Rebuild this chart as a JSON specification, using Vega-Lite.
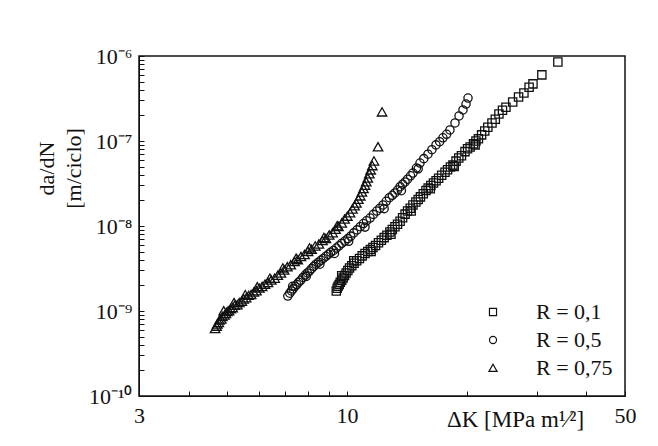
{
  "$schema": "https://vega.github.io/schema/vega-lite/v6.json",
  "width": 486,
  "height": 340,
  "autosize": {"type": "none"},
  "padding": {"left": 139, "top": 56, "right": 33, "bottom": 50},
  "background": "white",
  "config": {
    "view": {"stroke": "#111", "strokeWidth": 1.5},
    "font": "Liberation Serif",
    "axis": {
      "labelFont": "Liberation Serif",
      "titleFont": "Liberation Serif",
      "labelColor": "#111",
      "titleColor": "#111",
      "domainColor": "#111",
      "tickColor": "#111",
      "grid": false,
      "titleFontWeight": "normal",
      "labelOverlap": false,
      "labelFlush": false
    },
    "legend": {
      "labelFont": "Liberation Serif",
      "labelFontSize": 22,
      "labelColor": "#111",
      "labelOffset": 32,
      "rowPadding": 6,
      "symbolSize": 50,
      "symbolStrokeWidth": 1.2,
      "symbolStrokeColor": "#111",
      "symbolFillColor": "transparent",
      "padding": 0
    }
  },
  "data": {
    "values": [
      {"R": "R = 0,75", "K": 4.66, "dadN": 6.2e-10},
      {"R": "R = 0,75", "K": 4.70, "dadN": 6.6e-10},
      {"R": "R = 0,75", "K": 4.72, "dadN": 7.0e-10},
      {"R": "R = 0,75", "K": 4.76, "dadN": 7.3e-10},
      {"R": "R = 0,75", "K": 4.78, "dadN": 7.8e-10},
      {"R": "R = 0,75", "K": 4.83, "dadN": 8.0e-10},
      {"R": "R = 0,75", "K": 4.86, "dadN": 8.6e-10},
      {"R": "R = 0,75", "K": 4.92, "dadN": 8.9e-10},
      {"R": "R = 0,75", "K": 4.96, "dadN": 9.3e-10},
      {"R": "R = 0,75", "K": 5.00, "dadN": 9.8e-10},
      {"R": "R = 0,75", "K": 5.05, "dadN": 1.0e-9},
      {"R": "R = 0,75", "K": 5.10, "dadN": 1.06e-9},
      {"R": "R = 0,75", "K": 5.16, "dadN": 1.09e-9},
      {"R": "R = 0,75", "K": 5.22, "dadN": 1.16e-9},
      {"R": "R = 0,75", "K": 5.30, "dadN": 1.18e-9},
      {"R": "R = 0,75", "K": 5.36, "dadN": 1.25e-9},
      {"R": "R = 0,75", "K": 5.44, "dadN": 1.30e-9},
      {"R": "R = 0,75", "K": 5.50, "dadN": 1.38e-9},
      {"R": "R = 0,75", "K": 5.58, "dadN": 1.42e-9},
      {"R": "R = 0,75", "K": 5.66, "dadN": 1.52e-9},
      {"R": "R = 0,75", "K": 5.74, "dadN": 1.56e-9},
      {"R": "R = 0,75", "K": 5.83, "dadN": 1.66e-9},
      {"R": "R = 0,75", "K": 5.92, "dadN": 1.72e-9},
      {"R": "R = 0,75", "K": 6.02, "dadN": 1.85e-9},
      {"R": "R = 0,75", "K": 6.12, "dadN": 1.93e-9},
      {"R": "R = 0,75", "K": 6.22, "dadN": 2.06e-9},
      {"R": "R = 0,75", "K": 6.33, "dadN": 2.15e-9},
      {"R": "R = 0,75", "K": 6.45, "dadN": 2.30e-9},
      {"R": "R = 0,75", "K": 6.58, "dadN": 2.42e-9},
      {"R": "R = 0,75", "K": 6.70, "dadN": 2.62e-9},
      {"R": "R = 0,75", "K": 6.82, "dadN": 2.78e-9},
      {"R": "R = 0,75", "K": 6.95, "dadN": 3.02e-9},
      {"R": "R = 0,75", "K": 7.08, "dadN": 3.30e-9},
      {"R": "R = 0,75", "K": 7.22, "dadN": 3.48e-9},
      {"R": "R = 0,75", "K": 7.38, "dadN": 3.80e-9},
      {"R": "R = 0,75", "K": 7.52, "dadN": 4.0e-9},
      {"R": "R = 0,75", "K": 7.66, "dadN": 4.35e-9},
      {"R": "R = 0,75", "K": 7.82, "dadN": 4.6e-9},
      {"R": "R = 0,75", "K": 7.98, "dadN": 5.0e-9},
      {"R": "R = 0,75", "K": 8.15, "dadN": 5.3e-9},
      {"R": "R = 0,75", "K": 8.32, "dadN": 5.8e-9},
      {"R": "R = 0,75", "K": 8.50, "dadN": 6.1e-9},
      {"R": "R = 0,75", "K": 8.68, "dadN": 6.7e-9},
      {"R": "R = 0,75", "K": 8.85, "dadN": 7.1e-9},
      {"R": "R = 0,75", "K": 9.02, "dadN": 7.8e-9},
      {"R": "R = 0,75", "K": 9.20, "dadN": 8.3e-9},
      {"R": "R = 0,75", "K": 9.36, "dadN": 9.1e-9},
      {"R": "R = 0,75", "K": 9.52, "dadN": 9.8e-9},
      {"R": "R = 0,75", "K": 9.70, "dadN": 1.08e-8},
      {"R": "R = 0,75", "K": 9.86, "dadN": 1.2e-8},
      {"R": "R = 0,75", "K": 10.02, "dadN": 1.3e-8},
      {"R": "R = 0,75", "K": 10.18, "dadN": 1.42e-8},
      {"R": "R = 0,75", "K": 10.32, "dadN": 1.58e-8},
      {"R": "R = 0,75", "K": 10.45, "dadN": 1.72e-8},
      {"R": "R = 0,75", "K": 10.56, "dadN": 1.85e-8},
      {"R": "R = 0,75", "K": 10.68, "dadN": 2.05e-8},
      {"R": "R = 0,75", "K": 10.80, "dadN": 2.25e-8},
      {"R": "R = 0,75", "K": 10.90, "dadN": 2.5e-8},
      {"R": "R = 0,75", "K": 11.00, "dadN": 2.75e-8},
      {"R": "R = 0,75", "K": 11.10, "dadN": 3.0e-8},
      {"R": "R = 0,75", "K": 11.18, "dadN": 3.3e-8},
      {"R": "R = 0,75", "K": 11.28, "dadN": 3.65e-8},
      {"R": "R = 0,75", "K": 11.38, "dadN": 4.1e-8},
      {"R": "R = 0,75", "K": 11.47, "dadN": 4.55e-8},
      {"R": "R = 0,75", "K": 11.58, "dadN": 5.1e-8},
      {"R": "R = 0,75", "K": 11.69, "dadN": 5.8e-8},
      {"R": "R = 0,75", "K": 11.97, "dadN": 8.5e-8},
      {"R": "R = 0,75", "K": 12.25, "dadN": 2.19e-7},
      {"R": "R = 0,75", "K": 4.90, "dadN": 1.0e-9},
      {"R": "R = 0,75", "K": 5.20, "dadN": 1.25e-9},
      {"R": "R = 0,75", "K": 5.55, "dadN": 1.55e-9},
      {"R": "R = 0,75", "K": 5.95, "dadN": 1.92e-9},
      {"R": "R = 0,75", "K": 6.40, "dadN": 2.42e-9},
      {"R": "R = 0,75", "K": 6.90, "dadN": 3.2e-9},
      {"R": "R = 0,75", "K": 7.45, "dadN": 4.15e-9},
      {"R": "R = 0,75", "K": 8.05, "dadN": 5.5e-9},
      {"R": "R = 0,75", "K": 8.75, "dadN": 7.3e-9},
      {"R": "R = 0,75", "K": 9.45, "dadN": 1.0e-8},

      {"R": "R = 0,5", "K": 7.10, "dadN": 1.50e-9},
      {"R": "R = 0,5", "K": 7.18, "dadN": 1.62e-9},
      {"R": "R = 0,5", "K": 7.25, "dadN": 1.72e-9},
      {"R": "R = 0,5", "K": 7.32, "dadN": 1.82e-9},
      {"R": "R = 0,5", "K": 7.40, "dadN": 1.95e-9},
      {"R": "R = 0,5", "K": 7.48, "dadN": 2.05e-9},
      {"R": "R = 0,5", "K": 7.56, "dadN": 2.18e-9},
      {"R": "R = 0,5", "K": 7.65, "dadN": 2.30e-9},
      {"R": "R = 0,5", "K": 7.75, "dadN": 2.48e-9},
      {"R": "R = 0,5", "K": 7.85, "dadN": 2.65e-9},
      {"R": "R = 0,5", "K": 7.95, "dadN": 2.80e-9},
      {"R": "R = 0,5", "K": 8.05, "dadN": 2.95e-9},
      {"R": "R = 0,5", "K": 8.15, "dadN": 3.15e-9},
      {"R": "R = 0,5", "K": 8.25, "dadN": 3.35e-9},
      {"R": "R = 0,5", "K": 8.36, "dadN": 3.55e-9},
      {"R": "R = 0,5", "K": 8.48, "dadN": 3.75e-9},
      {"R": "R = 0,5", "K": 8.60, "dadN": 3.95e-9},
      {"R": "R = 0,5", "K": 8.72, "dadN": 4.15e-9},
      {"R": "R = 0,5", "K": 8.85, "dadN": 4.4e-9},
      {"R": "R = 0,5", "K": 8.98, "dadN": 4.65e-9},
      {"R": "R = 0,5", "K": 9.10, "dadN": 4.9e-9},
      {"R": "R = 0,5", "K": 9.25, "dadN": 5.15e-9},
      {"R": "R = 0,5", "K": 9.40, "dadN": 5.5e-9},
      {"R": "R = 0,5", "K": 9.55, "dadN": 5.85e-9},
      {"R": "R = 0,5", "K": 9.70, "dadN": 6.25e-9},
      {"R": "R = 0,5", "K": 9.88, "dadN": 6.65e-9},
      {"R": "R = 0,5", "K": 10.05, "dadN": 7.1e-9},
      {"R": "R = 0,5", "K": 10.22, "dadN": 7.6e-9},
      {"R": "R = 0,5", "K": 10.40, "dadN": 8.3e-9},
      {"R": "R = 0,5", "K": 10.60, "dadN": 9.0e-9},
      {"R": "R = 0,5", "K": 10.80, "dadN": 9.8e-9},
      {"R": "R = 0,5", "K": 11.00, "dadN": 1.07e-8},
      {"R": "R = 0,5", "K": 11.20, "dadN": 1.15e-8},
      {"R": "R = 0,5", "K": 11.43, "dadN": 1.24e-8},
      {"R": "R = 0,5", "K": 11.65, "dadN": 1.37e-8},
      {"R": "R = 0,5", "K": 11.88, "dadN": 1.5e-8},
      {"R": "R = 0,5", "K": 12.10, "dadN": 1.62e-8},
      {"R": "R = 0,5", "K": 12.32, "dadN": 1.77e-8},
      {"R": "R = 0,5", "K": 12.55, "dadN": 1.95e-8},
      {"R": "R = 0,5", "K": 12.78, "dadN": 2.15e-8},
      {"R": "R = 0,5", "K": 13.00, "dadN": 2.3e-8},
      {"R": "R = 0,5", "K": 13.20, "dadN": 2.45e-8},
      {"R": "R = 0,5", "K": 13.40, "dadN": 2.65e-8},
      {"R": "R = 0,5", "K": 13.60, "dadN": 2.9e-8},
      {"R": "R = 0,5", "K": 13.80, "dadN": 3.1e-8},
      {"R": "R = 0,5", "K": 14.00, "dadN": 3.3e-8},
      {"R": "R = 0,5", "K": 14.20, "dadN": 3.55e-8},
      {"R": "R = 0,5", "K": 14.45, "dadN": 3.9e-8},
      {"R": "R = 0,5", "K": 14.65, "dadN": 4.2e-8},
      {"R": "R = 0,5", "K": 14.95, "dadN": 4.8e-8},
      {"R": "R = 0,5", "K": 15.26, "dadN": 5.5e-8},
      {"R": "R = 0,5", "K": 15.60, "dadN": 6.2e-8},
      {"R": "R = 0,5", "K": 15.98, "dadN": 7.0e-8},
      {"R": "R = 0,5", "K": 16.35, "dadN": 7.9e-8},
      {"R": "R = 0,5", "K": 16.74, "dadN": 9.0e-8},
      {"R": "R = 0,5", "K": 17.10, "dadN": 9.8e-8},
      {"R": "R = 0,5", "K": 17.43, "dadN": 1.09e-7},
      {"R": "R = 0,5", "K": 17.80, "dadN": 1.2e-7},
      {"R": "R = 0,5", "K": 18.15, "dadN": 1.35e-7},
      {"R": "R = 0,5", "K": 18.69, "dadN": 1.63e-7},
      {"R": "R = 0,5", "K": 19.13, "dadN": 1.97e-7},
      {"R": "R = 0,5", "K": 19.57, "dadN": 2.32e-7},
      {"R": "R = 0,5", "K": 19.92, "dadN": 2.72e-7},
      {"R": "R = 0,5", "K": 20.15, "dadN": 3.2e-7},
      {"R": "R = 0,5", "K": 7.30, "dadN": 1.95e-9},
      {"R": "R = 0,5", "K": 7.90, "dadN": 2.55e-9},
      {"R": "R = 0,5", "K": 8.55, "dadN": 3.55e-9},
      {"R": "R = 0,5", "K": 9.30, "dadN": 4.75e-9},
      {"R": "R = 0,5", "K": 10.10, "dadN": 6.6e-9},
      {"R": "R = 0,5", "K": 11.10, "dadN": 9.7e-9},
      {"R": "R = 0,5", "K": 12.40, "dadN": 1.6e-8},
      {"R": "R = 0,5", "K": 13.70, "dadN": 2.6e-8},
      {"R": "R = 0,5", "K": 15.10, "dadN": 4.7e-8},

      {"R": "R = 0,1", "K": 9.40, "dadN": 1.72e-9},
      {"R": "R = 0,1", "K": 9.45, "dadN": 1.85e-9},
      {"R": "R = 0,1", "K": 9.50, "dadN": 1.95e-9},
      {"R": "R = 0,1", "K": 9.56, "dadN": 2.05e-9},
      {"R": "R = 0,1", "K": 9.62, "dadN": 2.18e-9},
      {"R": "R = 0,1", "K": 9.70, "dadN": 2.30e-9},
      {"R": "R = 0,1", "K": 9.78, "dadN": 2.45e-9},
      {"R": "R = 0,1", "K": 9.86, "dadN": 2.62e-9},
      {"R": "R = 0,1", "K": 9.95, "dadN": 2.80e-9},
      {"R": "R = 0,1", "K": 10.05, "dadN": 3.0e-9},
      {"R": "R = 0,1", "K": 10.15, "dadN": 3.2e-9},
      {"R": "R = 0,1", "K": 10.28, "dadN": 3.4e-9},
      {"R": "R = 0,1", "K": 10.42, "dadN": 3.65e-9},
      {"R": "R = 0,1", "K": 10.58, "dadN": 3.9e-9},
      {"R": "R = 0,1", "K": 10.75, "dadN": 4.15e-9},
      {"R": "R = 0,1", "K": 10.92, "dadN": 4.45e-9},
      {"R": "R = 0,1", "K": 11.10, "dadN": 4.75e-9},
      {"R": "R = 0,1", "K": 11.28, "dadN": 5.0e-9},
      {"R": "R = 0,1", "K": 11.45, "dadN": 5.3e-9},
      {"R": "R = 0,1", "K": 11.62, "dadN": 5.6e-9},
      {"R": "R = 0,1", "K": 11.80, "dadN": 5.9e-9},
      {"R": "R = 0,1", "K": 12.00, "dadN": 6.35e-9},
      {"R": "R = 0,1", "K": 12.20, "dadN": 6.8e-9},
      {"R": "R = 0,1", "K": 12.40, "dadN": 7.3e-9},
      {"R": "R = 0,1", "K": 12.60, "dadN": 7.8e-9},
      {"R": "R = 0,1", "K": 12.82, "dadN": 8.5e-9},
      {"R": "R = 0,1", "K": 13.00, "dadN": 9.1e-9},
      {"R": "R = 0,1", "K": 13.20, "dadN": 9.8e-9},
      {"R": "R = 0,1", "K": 13.40, "dadN": 1.05e-8},
      {"R": "R = 0,1", "K": 13.60, "dadN": 1.14e-8},
      {"R": "R = 0,1", "K": 13.80, "dadN": 1.25e-8},
      {"R": "R = 0,1", "K": 14.00, "dadN": 1.38e-8},
      {"R": "R = 0,1", "K": 14.20, "dadN": 1.5e-8},
      {"R": "R = 0,1", "K": 14.42, "dadN": 1.62e-8},
      {"R": "R = 0,1", "K": 14.65, "dadN": 1.77e-8},
      {"R": "R = 0,1", "K": 14.90, "dadN": 1.92e-8},
      {"R": "R = 0,1", "K": 15.10, "dadN": 2.05e-8},
      {"R": "R = 0,1", "K": 15.30, "dadN": 2.2e-8},
      {"R": "R = 0,1", "K": 15.55, "dadN": 2.4e-8},
      {"R": "R = 0,1", "K": 15.80, "dadN": 2.62e-8},
      {"R": "R = 0,1", "K": 16.00, "dadN": 2.8e-8},
      {"R": "R = 0,1", "K": 16.25, "dadN": 3.0e-8},
      {"R": "R = 0,1", "K": 16.50, "dadN": 3.2e-8},
      {"R": "R = 0,1", "K": 16.75, "dadN": 3.4e-8},
      {"R": "R = 0,1", "K": 17.00, "dadN": 3.65e-8},
      {"R": "R = 0,1", "K": 17.30, "dadN": 3.95e-8},
      {"R": "R = 0,1", "K": 17.64, "dadN": 4.3e-8},
      {"R": "R = 0,1", "K": 17.90, "dadN": 4.6e-8},
      {"R": "R = 0,1", "K": 18.20, "dadN": 4.95e-8},
      {"R": "R = 0,1", "K": 18.47, "dadN": 5.2e-8},
      {"R": "R = 0,1", "K": 18.80, "dadN": 5.8e-8},
      {"R": "R = 0,1", "K": 19.10, "dadN": 6.3e-8},
      {"R": "R = 0,1", "K": 19.40, "dadN": 6.7e-8},
      {"R": "R = 0,1", "K": 19.80, "dadN": 7.5e-8},
      {"R": "R = 0,1", "K": 20.10, "dadN": 8.1e-8},
      {"R": "R = 0,1", "K": 20.40, "dadN": 8.5e-8},
      {"R": "R = 0,1", "K": 20.80, "dadN": 9.3e-8},
      {"R": "R = 0,1", "K": 21.10, "dadN": 1.0e-7},
      {"R": "R = 0,1", "K": 21.40, "dadN": 1.06e-7},
      {"R": "R = 0,1", "K": 21.80, "dadN": 1.18e-7},
      {"R": "R = 0,1", "K": 22.20, "dadN": 1.31e-7},
      {"R": "R = 0,1", "K": 22.60, "dadN": 1.45e-7},
      {"R": "R = 0,1", "K": 23.15, "dadN": 1.63e-7},
      {"R": "R = 0,1", "K": 23.60, "dadN": 1.8e-7},
      {"R": "R = 0,1", "K": 24.10, "dadN": 2.08e-7},
      {"R": "R = 0,1", "K": 24.60, "dadN": 2.3e-7},
      {"R": "R = 0,1", "K": 25.10, "dadN": 2.5e-7},
      {"R": "R = 0,1", "K": 26.10, "dadN": 2.88e-7},
      {"R": "R = 0,1", "K": 27.00, "dadN": 3.3e-7},
      {"R": "R = 0,1", "K": 27.85, "dadN": 3.67e-7},
      {"R": "R = 0,1", "K": 28.70, "dadN": 4.3e-7},
      {"R": "R = 0,1", "K": 29.35, "dadN": 4.7e-7},
      {"R": "R = 0,1", "K": 30.90, "dadN": 6.0e-7},
      {"R": "R = 0,1", "K": 33.90, "dadN": 8.5e-7},
      {"R": "R = 0,1", "K": 9.70, "dadN": 2.6e-9},
      {"R": "R = 0,1", "K": 10.40, "dadN": 3.9e-9},
      {"R": "R = 0,1", "K": 11.50, "dadN": 5.0e-9},
      {"R": "R = 0,1", "K": 12.90, "dadN": 8.0e-9},
      {"R": "R = 0,1", "K": 14.50, "dadN": 1.5e-8},
      {"R": "R = 0,1", "K": 16.20, "dadN": 2.75e-8},
      {"R": "R = 0,1", "K": 18.60, "dadN": 5.0e-8},
      {"R": "R = 0,1", "K": 21.00, "dadN": 9.0e-8}
    ]
  },
  "mark": {"type": "point", "filled": false, "color": "#111", "strokeWidth": 1.3, "opacity": 1, "size": 68},
  "encoding": {
    "x": {
      "field": "K",
      "type": "quantitative",
      "scale": {"type": "log", "domain": [3, 50], "nice": false},
      "axis": {
        "values": [3, 4, 5, 6, 7, 8, 9, 10, 20, 30, 40, 50],
        "format": "d",
        "labelExpr": "datum.value == 3 || datum.value == 10 || datum.value == 50 ? datum.label : ''",
        "labelFontSize": 22,
        "tickSize": -5,
        "labelPadding": 14,
        "title": "ΔK [MPa m¹⁄²]",
        "titleFontSize": 23,
        "titleX": 376,
        "titleY": 30,
        "titleAlign": "center",
        "titleBaseline": "alphabetic"
      }
    },
    "y": {
      "field": "dadN",
      "type": "quantitative",
      "scale": {"type": "log", "domain": [1e-10, 1e-6], "nice": false},
      "axis": {
        "values": [1e-10, 2e-10, 3e-10, 4e-10, 5e-10, 6e-10, 7e-10, 8e-10, 9e-10, 1e-9, 2e-9, 3e-9, 4e-9, 5e-9, 6e-9, 7e-9, 8e-9, 9e-9, 1e-8, 2e-8, 3e-8, 4e-8, 5e-8, 6e-8, 7e-8, 8e-8, 9e-8, 1e-7, 2e-7, 3e-7, 4e-7, 5e-7, 6e-7, 7e-7, 8e-7, 9e-7, 1e-6],
        "labelExpr": "abs(datum.value / pow(10, round(log(datum.value) / LN10)) - 1) < 0.01 ? '10' + (round(log(datum.value) / LN10) == -6 ? '⁻⁶' : round(log(datum.value) / LN10) == -7 ? '⁻⁷' : round(log(datum.value) / LN10) == -8 ? '⁻⁸' : round(log(datum.value) / LN10) == -9 ? '⁻⁹' : '⁻¹⁰') : ''",
        "labelFontSize": 22,
        "labelBaseline": "middle",
        "tickSize": -5,
        "labelPadding": 12,
        "title": ["da/dN", "[m/ciclo]"],
        "titleFontSize": 22,
        "titleLineHeight": 27,
        "titleAngle": -90,
        "titleX": -86,
        "titleY": 112,
        "titleAlign": "center",
        "titleBaseline": "alphabetic"
      }
    },
    "shape": {
      "field": "R",
      "type": "nominal",
      "scale": {"domain": ["R = 0,1", "R = 0,5", "R = 0,75"], "range": ["square", "circle", "M0,-1.05L1.15,0.95L-1.15,0.95Z"]},
      "legend": {"orient": "none", "legendX": 343, "legendY": 245, "title": null}
    }
  }
}
